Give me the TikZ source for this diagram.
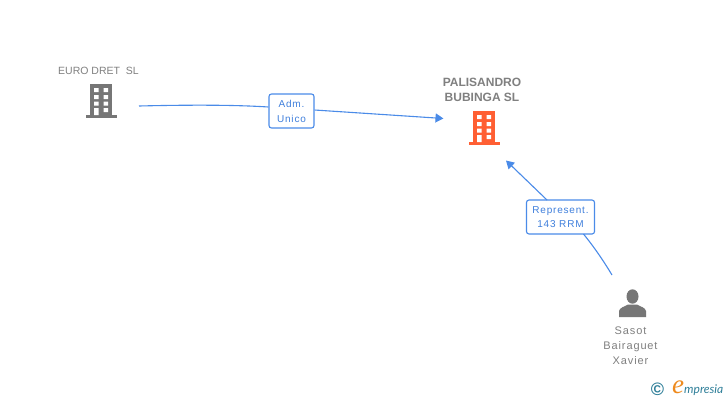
\documentclass[tikz,border=0pt]{standalone}
\usepackage{fontspec}
\setmainfont{Liberation Sans}
\newfontfamily\lsA[LetterSpace=0]{Liberation Sans}
\newfontfamily\lsB[LetterSpace=8]{Liberation Sans}
\newfontfamily\logoF{Lato}
\newfontfamily\logoE{Liberation Serif}
\usetikzlibrary{arrows.meta}
\definecolor{lnk}{HTML}{4A8BE8}
\definecolor{lbltxt}{HTML}{3F7FDC}
\definecolor{ico}{HTML}{767676}
\definecolor{org}{HTML}{FF5F33}
\definecolor{txt}{HTML}{808080}
\definecolor{logoB}{HTML}{2F7F99}
\definecolor{logoO}{HTML}{EE8A1E}
\tikzset{
 conn/.style={draw=lnk,line width=1.1pt},
 arr/.style={conn,-{Triangle[length=8pt,width=9pt]}},
 lbl/.style={draw=lnk,line width=1.1pt,rounded corners=2.5pt,fill=white,inner sep=0pt,align=center,text=lbltxt,font=\lsB\fontsize{10}{15}\selectfont},
 captxt/.style={inner sep=0pt,align=center,text=txt,font=\fontsize{10}{15}\selectfont},
}
\newcommand{\bldg}[3]{%
 \begin{scope}[shift={(#1,#2)}]
  \fill[#3] (90,84) rectangle (112,116);
  \fill[#3] (85.5,115) rectangle (117,118);
  \fill[white] (94,88) rectangle (98.5,92) (103.5,88) rectangle (108,92)
   (94,95) rectangle (98.5,99) (103.5,95) rectangle (108,99)
   (94,101.5) rectangle (98.5,105.5) (103.5,101.5) rectangle (108,105.5)
   (94,108) rectangle (98.5,115) (103.5,108) rectangle (108,112);
 \end{scope}}
\begin{document}
\begin{tikzpicture}[x=1pt,y=-1pt]
\useasboundingbox (0,0) rectangle (728,400);
\fill[white] (0,0) rectangle (728,400);
\bldg{0}{0}{ico}
\bldg{383}{27}{org}
% person
\fill[ico] (632.5,296.5) ellipse (6 and 7.2);
\fill[ico] (619,317) -- (619,311) .. controls (619.5,307.5) and (625,306.5) .. (628,304.5) -- (637,304.5) .. controls (640,306.5) and (645.5,307.5) .. (646,311) -- (646,317) -- cycle;
% text
\node[captxt] (euro) at (98.5,70.5) {\lsA\fontsize{10.5}{15}\selectfont EURO DRET\ \ SL};
\node[captxt,font=\bfseries\fontsize{12}{15}\selectfont] (pali) at (482,89.5) {PALISANDRO\\BUBINGA SL};
\node[captxt,font=\lsB\fontsize{11}{15}\selectfont] (sasot) at (630.5,346) {Sasot\\Bairaguet\\Xavier};
% connectors
\coordinate (a0) at (139,106);
\coordinate (a1) at (443.5,118.5);
\coordinate (b0) at (612,275);
\coordinate (b1) at (506,160.5);
\node[lbl,minimum width=45pt,minimum height=34pt] (adm) at (291.5,111) {Adm.\\Unico};
\node[lbl,minimum width=68pt,minimum height=34pt] (rep) at (560.5,217) {\raisebox{-1.5pt}{Represent.}\\143 RRM};
\draw[conn] (a0) .. controls (180,105) and (230,104.5) .. (adm.west |- 0,107);
\draw[arr] (adm.east |- 0,110) -- (a1);
\draw[conn] (b0) .. controls (603,260) and (594,247) .. (583.5,234);
\draw[arr] (547,200) -- (b1);
% logo
\node[inner sep=0pt,text=logoB,font=\bfseries\fontsize{18}{18}\selectfont] (copy) at (657.5,389.5) {©};
\node[inner sep=0pt,anchor=base west,text=logoO,font=\logoE\itshape\fontsize{27}{27}\selectfont] (e) at (672,393.5) {e};
\node[inner sep=0pt,anchor=base west,text=logoB,font=\logoF\itshape\fontsize{12}{12}\selectfont] (mp) at (684,393) {mpresia};
\end{tikzpicture}
\end{document}
